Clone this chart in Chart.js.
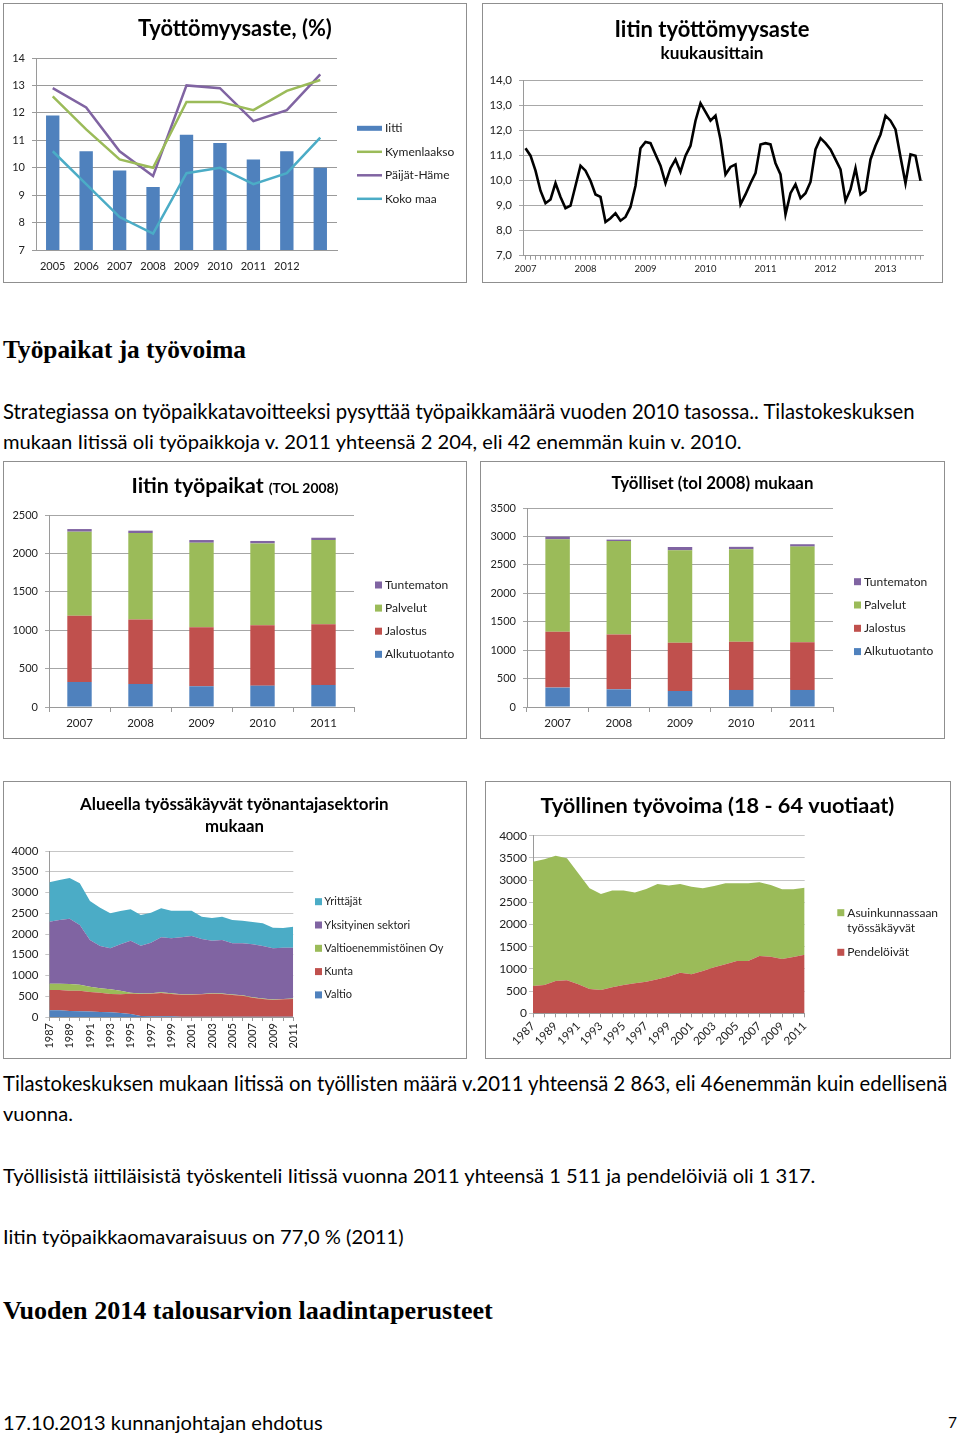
<!DOCTYPE html>
<html lang="fi">
<head>
<meta charset="utf-8">
<title>Työpaikat ja työvoima</title>
<script src="https://cdn.jsdelivr.net/npm/chart.js@4.4.1/dist/chart.umd.min.js"></script>
<style>
  body { margin: 0; background: #fff; }
  #page { position: relative; width: 960px; height: 1436px; overflow: hidden; background: #fff; }
  .panel { position: absolute; border: 1px solid #8f8f8f; background: #fff; }
  .panel canvas { display: block; }
  .txt { position: absolute; left: 3px; white-space: nowrap; line-height: 1.2; font-size: 20px;
         font-family: Lato, "Liberation Sans", sans-serif; color: #000; }
  .head { font-family: "Liberation Serif", "DejaVu Serif", serif; font-weight: bold; }
</style>
</head>
<body>
<div id="page">
  <div class="panel" style="left:3px; top:3px;"><canvas id="c1" width="462" height="278"></canvas></div>
  <div class="panel" style="left:482px; top:3px;"><canvas id="c2" width="459" height="278"></canvas></div>

  <div class="txt head" data-w="243" data-y="350">Työpaikat ja työvoima</div>
  <div class="txt" data-w="912" data-y="412">Strategiassa on työpaikkatavoitteeksi pysyttää työpaikkamäärä vuoden 2010 tasossa.. Tilastokeskuksen</div>
  <div class="txt" data-w="739" data-y="442">mukaan Iitissä oli työpaikkoja v. 2011 yhteensä 2 204, eli 42 enemmän kuin v. 2010.</div>

  <div class="panel" style="left:3px; top:461px;"><canvas id="c3" width="462" height="276"></canvas></div>
  <div class="panel" style="left:480px; top:461px;"><canvas id="c4" width="463" height="276"></canvas></div>

  <div class="panel" style="left:3px; top:781px;"><canvas id="c5" width="462" height="276"></canvas></div>
  <div class="panel" style="left:485px; top:781px;"><canvas id="c6" width="464" height="276"></canvas></div>

  <div class="txt" data-w="945" data-y="1084">Tilastokeskuksen mukaan Iitissä on työllisten määrä v.2011 yhteensä 2 863, eli 46enemmän kuin edellisenä</div>
  <div class="txt" data-w="70" data-y="1114">vuonna.</div>
  <div class="txt" data-w="813" data-y="1176">Työllisistä iittiläisistä työskenteli Iitissä vuonna 2011 yhteensä 1 511 ja pendelöiviä oli 1 317.</div>
  <div class="txt" data-w="401" data-y="1237">Iitin työpaikkaomavaraisuus on 77,0 % (2011)</div>
  <div class="txt head" data-w="490" data-y="1311">Vuoden 2014 talousarvion laadintaperusteet</div>
  <div class="txt" data-w="320" data-y="1423">17.10.2013 kunnanjohtajan ehdotus</div>
  <div class="txt" data-w="9" data-y="1423" data-r="957">7</div>
</div>

<script>
// Työttömyysaste, (%) – viimeinen sarake ilman vuosilukua
const rateYears = ['2005', '2006', '2007', '2008', '2009', '2010', '2011', '2012', ''];
const iittiRate = [11.9, 10.6, 9.9, 9.3, 11.2, 10.9, 10.3, 10.6, 10.0];
const kymenlaaksoRate = [12.6, 11.4, 10.3, 10.0, 12.4, 12.4, 12.1, 12.8, 13.2];
const paijatHameRate = [12.9, 12.2, 10.6, 9.7, 13.0, 12.9, 11.7, 12.1, 13.4];
const kokoMaaRate = [10.6, 9.4, 8.2, 7.6, 9.8, 10.0, 9.4, 9.8, 11.1];

// Iitin työttömyysaste kuukausittain
const monthYears = ['2007', '2008', '2009', '2010', '2011', '2012', '2013'];
const rate2007 = [11.3, 11.0, 10.4, 9.6, 9.1, 9.25, 9.9, 9.35, 8.9, 9.0, 9.8, 10.6];
const rate2008 = [10.4, 10.0, 9.45, 9.35, 8.35, 8.5, 8.7, 8.4, 8.55, 8.95, 9.8, 11.3];
const rate2009 = [11.55, 11.5, 11.05, 10.6, 9.9, 10.5, 10.85, 10.35, 11.0, 11.4, 12.4, 13.1];
const rate2010 = [12.75, 12.4, 12.6, 11.65, 10.25, 10.55, 10.65, 9.05, 9.45, 9.9, 10.3, 11.45];
const rate2011 = [11.5, 11.45, 10.7, 10.25, 8.65, 9.5, 9.85, 9.3, 9.5, 9.95, 11.25, 11.7];
const rate2012 = [11.5, 11.25, 10.85, 10.45, 9.2, 9.65, 10.5, 9.45, 9.6, 10.85, 11.4, 11.85];
const rate2013 = [12.6, 12.4, 12.05, 10.95, 9.9, 11.05, 11.0, 10.0];

// Iitin työpaikat (TOL 2008)
const jobYears = ['2007', '2008', '2009', '2010', '2011'];
const jobsAlku = [326, 300, 270, 278, 287];
const jobsJalostus = [861, 839, 769, 787, 791];
const jobsPalvelut = [1096, 1126, 1100, 1065, 1096];
const jobsTuntematon = [34, 31, 35, 32, 30];

// Työlliset (tol 2008) mukaan
const empAlku = [341, 311, 282, 300, 300];
const empJalostus = [981, 964, 846, 846, 840];
const empPalvelut = [1627, 1645, 1628, 1627, 1681];
const empTuntematon = [47, 24, 58, 44, 42];

// Alueella työssäkäyvät työnantajasektorin mukaan, 1987–2011
const areaYears = ['1987', '1988', '1989', '1990', '1991', '1992', '1993', '1994', '1995', '1996', '1997', '1998', '1999',
  '2000', '2001', '2002', '2003', '2004', '2005', '2006', '2007', '2008', '2009', '2010', '2011'];
const valtio = [165, 160, 145, 137, 135, 120, 112, 96, 72, 24, 16, 20, 16, 5, 5, 5, 5, 5, 5, 5, 5, 5, 5, 5, 5];
const kunta = [486, 491, 490, 498, 467, 466, 442, 450, 490, 530, 546, 558, 538, 533, 533, 541, 557, 549, 525, 509, 461, 429, 405, 421, 429];
const valtioOy = [152, 152, 160, 144, 129, 105, 113, 89, 20, 10, 10, 16, 16, 10, 10, 10, 10, 10, 10, 10, 10, 10, 10, 10, 10];
const yksityinen = [1494, 1534, 1574, 1438, 1124, 1020, 988, 1116, 1257, 1155, 1219, 1326, 1326, 1372, 1404, 1324, 1267, 1291, 1235, 1251, 1275, 1267, 1235, 1235, 1227];
const yrittajat = [948, 964, 980, 1004, 940, 924, 843, 803, 755, 739, 723, 699, 664, 642, 610, 538, 547, 563, 562, 546, 538, 546, 498, 474, 506];

// Työllinen työvoima (18 - 64 vuotiaat)
const pendeloivat = [616, 638, 728, 743, 653, 548, 526, 586, 638, 676, 713, 766, 830, 916, 878, 953, 1036, 1104, 1179, 1179, 1291, 1276, 1224, 1269, 1317];
const asuinkunnassaan = [2800, 2830, 2823, 2748, 2500, 2267, 2162, 2177, 2125, 2042, 2087, 2147, 2050, 1997, 1975, 1862, 1832, 1824, 1749, 1749, 1659, 1614, 1569, 1524, 1511];

const BLUE = '#4f81bd', RED = '#c0504d', GREEN = '#9bbb59', PURPLE = '#8064a2', CYAN = '#4bacc6';
const FONT = 'Lato, "Liberation Sans", sans-serif';
const GRID = '#9a9a9a';
const plain = v => String(v);

Chart.defaults.font.family = FONT;
Chart.defaults.color = '#222';
Chart.defaults.animation = false;
Chart.defaults.plugins.legend.display = false;
Chart.defaults.plugins.tooltip.enabled = false;

// otsikko: rivit, joissa osia eri kokoisina; leveys sovitetaan kuvan mukaan
function titlePlugin(cx, lines) {
  return {
    id: 'panelTitle',
    afterDraw(chart) {
      const ctx = chart.ctx;
      ctx.save();
      ctx.fillStyle = '#000';
      ctx.textAlign = 'left';
      ctx.textBaseline = 'alphabetic';
      lines.forEach(line => {
        let w = 0;
        line.parts.forEach(p => {
          ctx.font = `bold ${p.size}px ${FONT}`;
          w += ctx.measureText(p.text).width;
        });
        const k = line.width ? line.width / w : 1;
        let x = cx - (w * k) / 2;
        line.parts.forEach(p => {
          ctx.font = `bold ${p.size * k}px ${FONT}`;
          ctx.fillText(p.text, x, line.y);
          x += ctx.measureText(p.text).width;
        });
      });
      ctx.restore();
    }
  };
}

function legendPlugin(o) {
  return {
    id: 'sideLegend',
    afterDraw(chart) {
      const ctx = chart.ctx;
      const sets = chart.data.datasets.slice();
      if (o.reverse) sets.reverse();
      ctx.save();
      ctx.font = `${o.size}px ${FONT}`;
      ctx.textAlign = 'left';
      ctx.textBaseline = 'middle';
      let y = o.y;
      sets.forEach(ds => {
        const lines = ds.label.split('\n');
        const isLine = !ds.fill && (ds.type === 'line' || (!ds.type && chart.config.type === 'line'));
        if (isLine) {
          ctx.strokeStyle = ds.borderColor;
          ctx.lineWidth = 2.5;
          ctx.beginPath();
          ctx.moveTo(o.x, y);
          ctx.lineTo(o.x + o.boxW, y);
          ctx.stroke();
        } else {
          ctx.fillStyle = ds.backgroundColor;
          ctx.fillRect(o.x, y - o.boxH / 2, o.boxW, o.boxH);
        }
        ctx.fillStyle = '#222';
        lines.forEach((t, i) => ctx.fillText(t, o.textX, y + i * o.lineH));
        y += o.gap + (lines.length - 1) * o.lineH;
      });
      ctx.restore();
    }
  };
}

// ---- 1: Työttömyysaste, (%)
new Chart(document.getElementById('c1'), {
  type: 'bar',
  data: {
    labels: rateYears,
    datasets: [
      { type: 'bar', label: 'Iitti', data: iittiRate, backgroundColor: BLUE, barPercentage: 0.4, categoryPercentage: 1, order: 2 },
      { type: 'line', label: 'Kymenlaakso', data: kymenlaaksoRate, borderColor: GREEN, borderWidth: 2.5, pointRadius: 0, tension: 0, order: 1 },
      { type: 'line', label: 'Päijät-Häme', data: paijatHameRate, borderColor: PURPLE, borderWidth: 2.5, pointRadius: 0, tension: 0, order: 1 },
      { type: 'line', label: 'Koko maa', data: kokoMaaRate, borderColor: CYAN, borderWidth: 2.5, pointRadius: 0, tension: 0, order: 1 }
    ]
  },
  options: {
    responsive: false,
    layout: { padding: { left: 0, top: 54, right: 129, bottom: 0 } },
    scales: {
      x: {
        grid: { display: false, drawTicks: false },
        border: { color: GRID },
        ticks: { font: { size: 11 }, padding: 10, maxRotation: 0, autoSkip: false },
        afterFit: s => { s.height = 32; }
      },
      y: {
        min: 7, max: 14,
        ticks: { stepSize: 1, font: { size: 11 }, padding: 7, callback: plain },
        grid: { color: GRID, tickLength: 4 },
        border: { color: GRID },
        afterFit: s => { s.width = 32; }
      }
    }
  },
  plugins: [
    titlePlugin(231, [{ y: 32, width: 194, parts: [{ text: 'Työttömyysaste, (%)', size: 20 }] }]),
    legendPlugin({ x: 353, textX: 381, y: 124.3, gap: 23.5, boxW: 25, boxH: 5, size: 12, lineH: 15 })
  ]
});

// ---- 2: Iitin työttömyysaste kuukausittain
const monthRates = [].concat(rate2007, rate2008, rate2009, rate2010, rate2011, rate2012, rate2013);
const monthLabels = monthRates.map((v, i) => monthYears[Math.floor(i / 12)] + '/' + (i % 12 + 1));
new Chart(document.getElementById('c2'), {
  type: 'line',
  data: {
    labels: monthLabels,
    datasets: [{ label: 'Iitti', data: monthRates, borderColor: '#000', borderWidth: 2.6, pointRadius: 0, tension: 0 }]
  },
  options: {
    responsive: false,
    layout: { padding: { left: 0, top: 76.7, right: 19, bottom: 0 } },
    scales: {
      x: {
        offset: true,
        grid: { drawOnChartArea: false, tickLength: 4, color: GRID },
        border: { color: GRID },
        ticks: {
          autoSkip: false, maxRotation: 0, font: { size: 9.5 }, padding: 4,
          callback: (v, i) => (i % 12 === 0 ? monthYears[i / 12] : '')
        },
        afterFit: s => { s.height = 26.3; }
      },
      y: {
        min: 7, max: 14,
        ticks: { stepSize: 1, font: { size: 11.5 }, padding: 7, callback: v => v.toFixed(1).replace('.', ',') },
        grid: { color: '#a8a8a8', tickLength: 4 },
        border: { color: GRID },
        afterFit: s => { s.width = 40; }
      }
    }
  },
  plugins: [
    titlePlugin(229, [
      { y: 33, width: 195, parts: [{ text: 'Iitin työttömyysaste', size: 20 }] },
      { y: 55, width: 103, parts: [{ text: 'kuukausittain', size: 15 }] }
    ])
  ]
});

// ---- 3 ja 4: pinotut pylväät
function stackedBars(id, title, ymax, sets, area, legend) {
  return new Chart(document.getElementById(id), {
    type: 'bar',
    data: {
      labels: jobYears,
      datasets: [
        { label: 'Alkutuotanto', data: sets[0], backgroundColor: BLUE },
        { label: 'Jalostus', data: sets[1], backgroundColor: RED },
        { label: 'Palvelut', data: sets[2], backgroundColor: GREEN },
        { label: 'Tuntematon', data: sets[3], backgroundColor: PURPLE }
      ]
    },
    options: {
      responsive: false,
      datasets: { bar: { barPercentage: 0.4, categoryPercentage: 1 } },
      layout: { padding: { left: 0, top: area.top, right: area.right, bottom: 0 } },
      scales: {
        x: {
          stacked: true,
          grid: { drawOnChartArea: false, offset: true, tickLength: 5, color: GRID },
          border: { color: GRID },
          ticks: { font: { size: 11.5 }, padding: 4, maxRotation: 0 },
          afterFit: s => { s.height = area.xh; }
        },
        y: {
          stacked: true, min: 0, max: ymax,
          ticks: { stepSize: 500, font: { size: 11 }, padding: 7, callback: plain },
          grid: { color: '#a6a6a6', tickLength: 4 },
          border: { color: GRID },
          afterFit: s => { s.width = area.left; }
        }
      }
    },
    plugins: [title, legendPlugin(legend)]
  });
}

stackedBars('c3',
  titlePlugin(231, [{ y: 31.3, width: 207, parts: [{ text: 'Iitin työpaikat ', size: 20 }, { text: '(TOL 2008)', size: 13 }] }]),
  2500, [jobsAlku, jobsJalostus, jobsPalvelut, jobsTuntematon],
  { left: 45, top: 53, right: 112, xh: 31 },
  { reverse: true, x: 371, textX: 381, y: 123, gap: 23.1, boxW: 7, boxH: 7, size: 12, lineH: 15 });

stackedBars('c4',
  titlePlugin(231.5, [{ y: 27.3, width: 202, parts: [{ text: 'Työlliset (tol 2008) mukaan', size: 16 }] }]),
  3500, [empAlku, empJalostus, empPalvelut, empTuntematon],
  { left: 46, top: 46, right: 111, xh: 31 },
  { reverse: true, x: 373, textX: 383, y: 119.7, gap: 23.3, boxW: 7, boxH: 7, size: 12, lineH: 15 });

// ---- 5 ja 6: pinotut aluekaaviot
const areaBase = { pointRadius: 0, borderWidth: 0, borderColor: 'rgba(0,0,0,0)', tension: 0 };
function everyOther(v, i) { return i % 2 === 0 ? areaYears[i] : ''; }

new Chart(document.getElementById('c5'), {
  type: 'line',
  data: {
    labels: areaYears,
    datasets: [
      { ...areaBase, label: 'Valtio', data: valtio, backgroundColor: BLUE, fill: 'origin' },
      { ...areaBase, label: 'Kunta', data: kunta, backgroundColor: RED, fill: '-1' },
      { ...areaBase, label: 'Valtioenemmistöinen Oy', data: valtioOy, backgroundColor: GREEN, fill: '-1' },
      { ...areaBase, label: 'Yksityinen sektori', data: yksityinen, backgroundColor: PURPLE, fill: '-1' },
      { ...areaBase, label: 'Yrittäjät', data: yrittajat, backgroundColor: CYAN, fill: '-1' }
    ]
  },
  options: {
    responsive: false,
    layout: { padding: { left: 0, top: 69, right: 172.7, bottom: 0 } },
    scales: {
      x: {
        grid: { drawOnChartArea: false, tickLength: 4, color: GRID },
        border: { color: GRID },
        ticks: { autoSkip: false, minRotation: 90, maxRotation: 90, font: { size: 11 }, padding: 2, callback: everyOther },
        afterFit: s => { s.height = 41; }
      },
      y: {
        stacked: true, min: 0, max: 4000,
        ticks: { stepSize: 500, font: { size: 11.5 }, padding: 7, callback: plain },
        grid: { color: '#c6c6c6', tickLength: 4 },
        border: { color: GRID },
        afterFit: s => { s.width = 45.3; }
      }
    }
  },
  plugins: [
    titlePlugin(230.5, [
      { y: 28, width: 309, parts: [{ text: 'Alueella työssäkäyvät työnantajasektorin', size: 16 }] },
      { y: 49.7, width: 59, parts: [{ text: 'mukaan', size: 16 }] }
    ]),
    legendPlugin({ reverse: true, x: 311, textX: 320.3, y: 119.7, gap: 23.3, boxW: 7, boxH: 7, size: 11, lineH: 15 })
  ]
});

new Chart(document.getElementById('c6'), {
  type: 'line',
  data: {
    labels: areaYears,
    datasets: [
      { ...areaBase, label: 'Pendelöivät', data: pendeloivat, backgroundColor: RED, fill: 'origin' },
      { ...areaBase, label: 'Asuinkunnassaan\ntyössäkäyvät', data: asuinkunnassaan, backgroundColor: GREEN, fill: '-1' }
    ]
  },
  options: {
    responsive: false,
    layout: { padding: { left: 0, top: 53.7, right: 145.3, bottom: 0 } },
    scales: {
      x: {
        grid: { drawOnChartArea: false, tickLength: 4, color: GRID },
        border: { color: GRID },
        ticks: { autoSkip: false, minRotation: 45, maxRotation: 45, font: { size: 11.5 }, padding: 2, callback: everyOther },
        afterFit: s => { s.height = 44.7; }
      },
      y: {
        stacked: true, min: 0, max: 4000,
        ticks: { stepSize: 500, font: { size: 12 }, padding: 2, callback: plain },
        grid: { color: '#c6c6c6', tickLength: 4 },
        border: { color: GRID },
        afterFit: s => { s.width = 47; }
      }
    }
  },
  plugins: [
    titlePlugin(231.5, [{ y: 31.3, width: 354, parts: [{ text: 'Työllinen työvoima (18 - 64 vuotiaat)', size: 20 }] }]),
    legendPlugin({ reverse: true, x: 351.3, textX: 361.3, y: 130.7, gap: 24, boxW: 7, boxH: 7, size: 12, lineH: 15.6 })
  ]
});

// tekstirivit: leveys ja pystykeskikohta kuvan mukaan
document.querySelectorAll('.txt').forEach(el => {
  const fs = 20 * (+el.dataset.w) / el.getBoundingClientRect().width;
  el.style.fontSize = fs + 'px';
  el.style.top = (+el.dataset.y - fs * (el.classList.contains('head') ? 0.62 : 0.66)) + 'px';
  if (el.dataset.r) el.style.left = (+el.dataset.r - el.getBoundingClientRect().width) + 'px';
});
</script>
</body>
</html>
